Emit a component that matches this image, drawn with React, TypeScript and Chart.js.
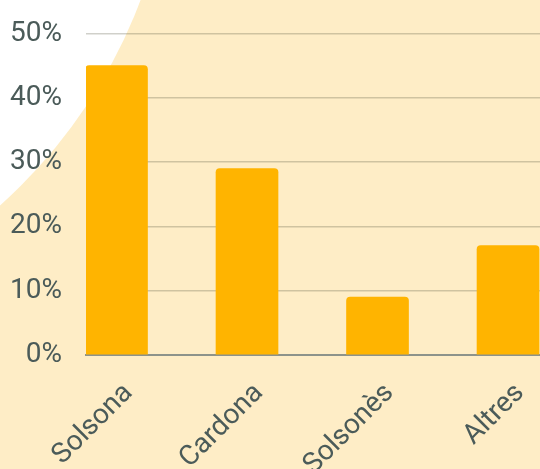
import { useEffect, useRef } from 'react';
import { Chart, registerables } from 'chart.js';

Chart.register(...registerables);

const categories = ['Solsona', 'Cardona', 'Solsonès', 'Altres'];
const shares = [45, 29, 9, 17];
const yTicks = [0, 10, 20, 30, 40, 50];

const textColor = '#4b5b59';
const font = { family: 'Roboto', size: 28 };

export default function App() {
  const ref = useRef<HTMLCanvasElement>(null);

  useEffect(() => {
    document.body.style.margin = '0';
    const bg = {
      id: 'bg',
      beforeDraw(chart: any) {
        const { ctx, width, height } = chart;
        ctx.save();
        ctx.fillStyle = '#FEEDC6';
        ctx.fillRect(0, 0, width, height);
        ctx.fillStyle = '#ffffff';
        ctx.beginPath();
        ctx.arc(-349, -184, 523, 0, Math.PI * 2);
        ctx.fill();
        ctx.restore();
      },
    };
    const chart = new Chart(ref.current as HTMLCanvasElement, {
      type: 'bar',
      data: {
        datasets: [
          {
            data: shares.map((v, i) => ({ x: i, y: v })),
            backgroundColor: '#FFB400',
            borderRadius: { topLeft: 4, topRight: 4, bottomLeft: 0, bottomRight: 0 },
            borderSkipped: 'start',
            barThickness: 62,
          } as any,
        ],
      },
      options: {
        responsive: false,
        animation: false,
        layout: { padding: { top: 33.5, left: 0, right: 0, bottom: 0 } },
        plugins: { legend: { display: false }, tooltip: { enabled: false } },
        scales: {
          x: {
            type: 'linear',
            offset: false,
            min: -0.2337,
            max: 3.245,
            grid: { display: false },
            border: { display: true, color: '#8d938b', width: 2 },
            afterBuildTicks: (s: any) => {
              s.ticks = categories.map((_, i) => ({ value: i }));
            },
            afterFit: (s: any) => {
              s.height = 114;
              s.paddingLeft = 0;
              s.paddingRight = 0;
              s.paddingTop = 0;
              s.paddingBottom = 0;
            },
            ticks: {
              autoSkip: false,
              maxRotation: 45,
              minRotation: 45,
              padding: 14,
              labelOffset: 12,
              font,
              color: textColor,
              callback: (v: any) => categories[v] ?? '',
            },
          },
          y: {
            min: 0,
            max: 50,
            afterBuildTicks: (s: any) => {
              s.ticks = yTicks.map((v) => ({ value: v }));
            },
            afterFit: (s: any) => {
              s.width = 86;
              s.paddingTop = 0;
              s.paddingBottom = 0;
            },
            grid: { color: 'rgba(80,80,60,0.27)', drawTicks: false, lineWidth: 1.5 },
            border: { display: false },
            ticks: {
              padding: 24,
              font,
              color: textColor,
              callback: (v: any) => v + '%',
            },
          },
        },
      } as any,
      plugins: [bg],
    });
    return () => chart.destroy();
  }, []);

  return (
    <div style={{ width: 540, height: 469, overflow: 'hidden' }}>
      <canvas ref={ref} width={540} height={469} style={{ display: 'block' }} />
    </div>
  );
}
